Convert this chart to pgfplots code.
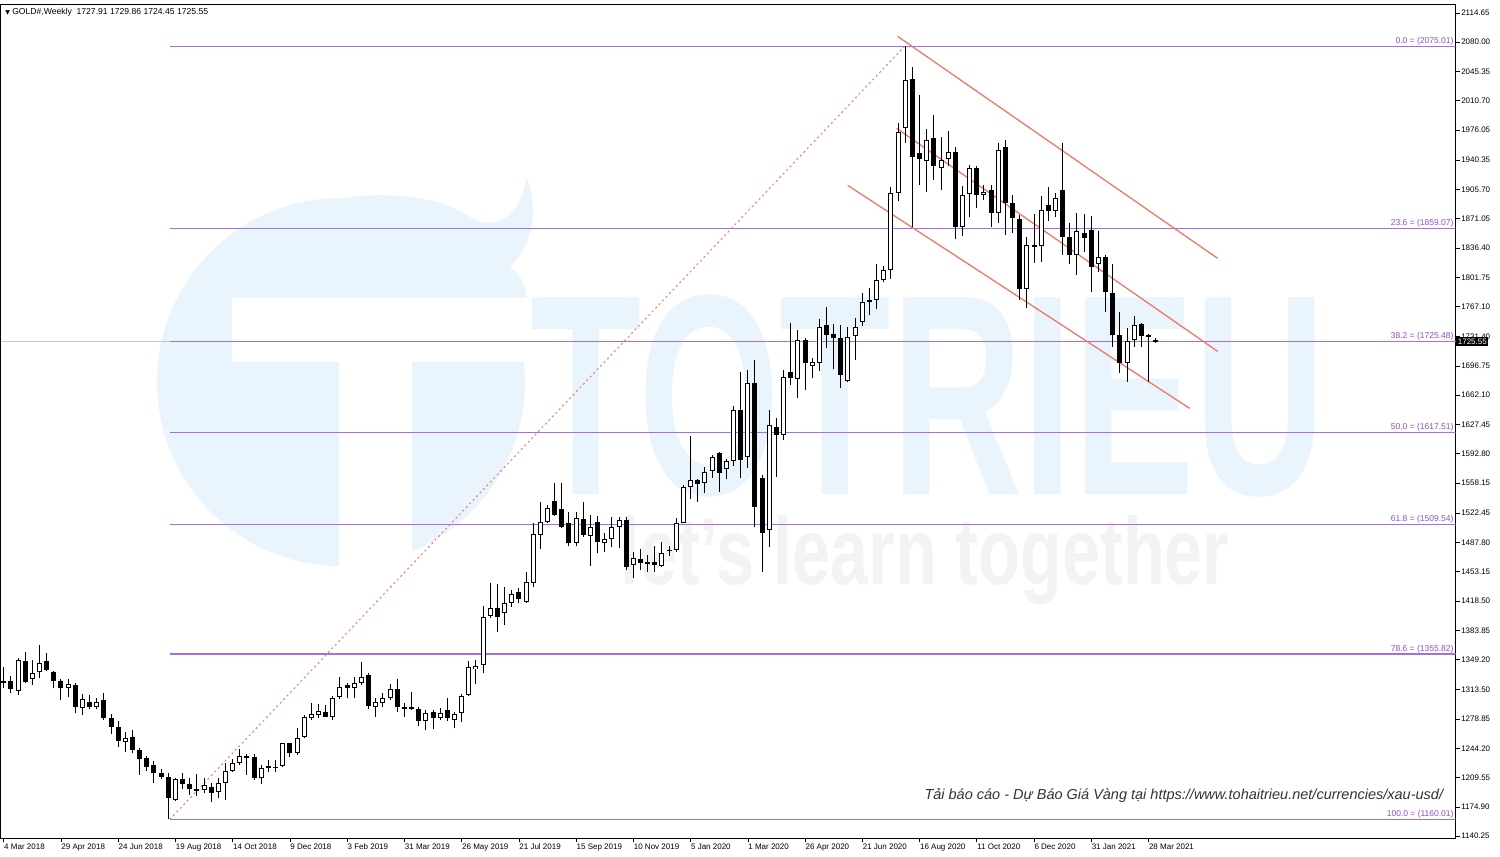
\documentclass[border=0pt]{standalone}
\usepackage{pgfplots}
\usepackage{pgfplotstable}
\pgfplotsset{compat=1.18}
\usepackage{fontspec}
\setmainfont{Liberation Sans}
\newfontfamily\dejavu{DejaVu Sans}
\definecolor{fibc}{RGB}{165,110,225}
\definecolor{fibt}{RGB}{140,80,200}
\definecolor{chan}{RGB}{238,120,105}
\definecolor{wmblue}{RGB}{234,244,253}
\definecolor{wmgray}{RGB}{243,243,243}

\pgfplotstableread{
i o h l c
0 1322.0 1340.0 1316.0 1324.0
1 1323.7 1330.1 1309.2 1313.9
2 1312.4 1351.4 1307.1 1348.6
3 1347.9 1358.5 1321.0 1323.0
4 1325.7 1348.6 1319.0 1333.7
5 1334.8 1366.3 1326.9 1345.5
6 1347.4 1357.3 1336.0 1336.7
7 1334.8 1336.0 1315.1 1324.2
8 1323.7 1326.1 1301.2 1315.9
9 1315.9 1326.1 1304.4 1319.8
10 1319.0 1321.8 1285.5 1293.4
11 1291.4 1308.3 1283.5 1302.0
12 1299.3 1307.1 1290.2 1293.4
13 1292.6 1304.1 1290.2 1299.3
14 1301.2 1310.0 1277.5 1279.6
15 1279.6 1285.0 1261.0 1269.0
16 1269.0 1276.0 1246.0 1253.0
17 1252.0 1263.8 1240.1 1255.9
18 1257.1 1265.7 1238.1 1242.0
19 1242.0 1244.0 1212.4 1231.0
20 1232.2 1234.9 1217.6 1222.4
21 1224.3 1229.0 1203.4 1214.4
22 1215.3 1219.2 1207.4 1210.6
23 1210.6 1215.3 1160.0 1184.9
24 1182.9 1208.5 1182.1 1207.4
25 1207.4 1215.3 1195.5 1201.8
26 1201.8 1208.5 1188.8 1195.5
27 1195.5 1213.6 1187.6 1195.2
28 1194.7 1208.5 1190.8 1200.6
29 1198.7 1202.6 1181.0 1191.6
30 1192.8 1208.5 1184.9 1203.4
31 1203.4 1226.3 1182.9 1217.6
32 1217.6 1231.0 1216.5 1226.3
33 1227.1 1242.9 1224.3 1234.9
34 1234.9 1236.9 1212.4 1233.4
35 1233.4 1237.3 1206.5 1208.5
36 1208.5 1224.3 1202.0 1221.2
37 1223.1 1230.2 1216.5 1222.0
38 1222.0 1230.2 1216.5 1221.5
39 1223.1 1250.8 1221.6 1250.0
40 1250.0 1250.8 1234.2 1239.0
41 1238.1 1267.7 1236.1 1256.7
42 1257.1 1283.5 1255.9 1281.6
43 1279.6 1298.1 1277.5 1284.7
44 1283.5 1296.5 1279.6 1288.7
45 1287.5 1295.3 1280.7 1281.6
46 1281.6 1306.0 1277.5 1303.2
47 1304.4 1328.1 1302.0 1317.1
48 1319.0 1321.8 1303.2 1315.1
49 1315.1 1328.9 1303.2 1321.8
50 1321.8 1346.7 1319.0 1328.9
51 1330.8 1332.8 1290.2 1294.1
52 1293.4 1303.2 1281.6 1299.3
53 1298.1 1309.2 1292.6 1303.2
54 1303.2 1320.2 1301.2 1313.9
55 1313.9 1325.7 1287.5 1292.6
56 1293.4 1298.1 1281.6 1291.5
57 1292.6 1311.2 1289.4 1291.0
58 1291.0 1292.6 1270.4 1276.8
59 1276.8 1289.4 1265.7 1286.3
60 1287.5 1289.4 1266.9 1279.6
61 1279.6 1291.4 1277.5 1286.3
62 1289.4 1304.1 1276.8 1279.6
63 1277.5 1287.5 1267.7 1284.7
64 1285.5 1308.3 1275.7 1306.0
65 1307.1 1347.9 1306.0 1340.8
66 1337.6 1348.6 1320.2 1341.9
67 1342.7 1412.5 1332.8 1399.1
68 1400.7 1439.4 1397.9 1409.8
69 1409.8 1438.5 1382.2 1400.0
70 1403.9 1435.5 1390.0 1415.7
71 1416.5 1431.4 1411.0 1426.7
72 1429.5 1433.4 1415.7 1420.4
73 1417.7 1453.2 1415.7 1441.4
74 1439.4 1510.4 1435.5 1497.4
75 1496.5 1536.1 1479.6 1512.4
76 1512.4 1532.0 1510.4 1528.1
77 1537.3 1557.7 1519.0 1520.2
78 1527.0 1557.7 1504.5 1506.5
79 1510.4 1524.2 1483.5 1486.7
80 1487.0 1524.2 1483.5 1517.0
81 1515.1 1536.1 1494.6 1496.5
82 1495.4 1520.2 1459.8 1506.5
83 1512.4 1519.0 1474.9 1488.7
84 1487.5 1499.4 1476.9 1491.4
85 1491.4 1518.3 1482.0 1505.6
86 1505.6 1518.3 1480.8 1514.3
87 1514.3 1518.3 1454.8 1459.1
88 1461.0 1476.9 1445.3 1469.0
89 1467.8 1479.6 1455.1 1463.9
90 1464.2 1472.9 1453.2 1462.5
91 1465.1 1483.5 1453.2 1461.0
92 1459.8 1488.7 1458.3 1475.7
93 1478.1 1483.5 1471.7 1479.0
94 1478.8 1516.3 1476.9 1511.2
95 1511.2 1555.7 1510.4 1553.8
96 1553.8 1613.7 1538.8 1561.6
97 1561.6 1563.5 1536.1 1556.9
98 1557.7 1576.7 1545.9 1571.6
99 1572.0 1591.2 1563.7 1589.3
100 1594.1 1595.3 1547.9 1570.4
101 1574.3 1586.1 1562.5 1584.6
102 1584.6 1649.0 1578.0 1644.1
103 1644.1 1689.1 1563.7 1585.3
104 1589.3 1691.8 1575.5 1676.1
105 1676.1 1703.7 1506.5 1530.1
106 1563.7 1567.6 1453.2 1498.5
107 1502.5 1644.5 1482.8 1626.7
108 1624.9 1634.7 1565.7 1614.9
109 1614.9 1691.8 1609.0 1683.2
110 1690.0 1747.1 1674.1 1682.0
111 1680.8 1739.2 1658.3 1727.4
112 1727.4 1729.4 1668.2 1699.8
113 1696.6 1705.7 1682.0 1701.8
114 1699.8 1751.9 1691.1 1742.4
115 1745.1 1766.1 1717.5 1733.3
116 1734.5 1746.3 1692.7 1729.4
117 1729.4 1745.1 1670.2 1685.9
118 1679.3 1743.2 1678.1 1730.6
119 1732.1 1753.0 1703.7 1742.4
120 1749.1 1782.6 1743.9 1772.8
121 1772.8 1789.0 1757.0 1775.0
122 1775.0 1818.0 1764.0 1798.0
123 1798.0 1815.0 1796.0 1810.0
124 1810.0 1908.1 1800.0 1901.0
125 1901.0 1983.8 1892.0 1974.0
126 1977.9 2075.0 1960.2 2035.1
127 2035.9 2051.0 1861.6 1944.5
128 1948.4 2017.4 1910.8 1941.2
129 1939.7 1976.8 1903.0 1964.1
130 1966.7 1993.7 1916.7 1933.2
131 1930.6 1967.9 1904.9 1940.5
132 1941.2 1974.6 1933.3 1950.4
133 1950.4 1956.3 1846.6 1860.8
134 1860.8 1909.3 1850.1 1898.6
135 1900.0 1934.5 1873.4 1930.6
136 1930.6 1933.3 1883.2 1899.0
137 1899.0 1910.8 1893.1 1903.0
138 1904.9 1910.8 1861.6 1878.1
139 1877.3 1960.2 1865.5 1952.2
140 1955.4 1964.1 1852.1 1889.1
141 1889.1 1899.0 1854.1 1871.4
142 1870.2 1876.0 1774.7 1787.4
143 1787.4 1849.7 1764.9 1839.8
144 1839.8 1876.5 1819.0 1838.5
145 1838.5 1897.8 1819.3 1881.2
146 1887.0 1908.1 1868.7 1880.3
147 1880.3 1901.7 1872.6 1896.1
148 1904.9 1961.0 1828.0 1849.7
149 1849.7 1865.5 1817.3 1828.0
150 1828.0 1877.3 1804.9 1856.9
151 1854.5 1876.5 1832.0 1847.8
152 1858.0 1874.2 1784.7 1814.2
153 1817.3 1856.9 1808.3 1825.2
154 1826.0 1828.0 1761.0 1784.7
155 1782.6 1817.3 1719.6 1733.3
156 1733.3 1761.0 1688.8 1700.6
157 1700.6 1741.2 1677.8 1726.6
158 1727.4 1755.8 1719.6 1745.1
159 1746.3 1747.9 1719.6 1732.1
160 1733.3 1735.0 1677.8 1730.6
161 1727.91 1729.86 1724.45 1725.55
}\candles

\begin{document}
\begin{tikzpicture}[x=1pt,y=1pt]
\useasboundingbox (0,0) rectangle (1500,857);
\fill[white] (0,0) rectangle (1500,857);
% watermark logo (pixel coords: y_tikz = 857 - y_px)
\fill[wmblue] (341,475) circle[radius=184];
\fill[wmblue] (300,650) .. controls (380,672) and (440,660) .. (470,640)
  .. controls (495,625) and (520,640) .. (527,680)
  .. controls (540,640) and (530,610) .. (510,590)
  .. controls (525,580) and (530,560) .. (525,540) -- (420,560) -- cycle;
\fill[white] (232,559) rectangle (537,495);
\fill[white] (339,495) rectangle (412,280);
\node[anchor=base west, text=wmblue, inner sep=0pt, xscale=0.637]
  at (530,362) {\fontsize{286}{286}\selectfont\bfseries TOTRIEU};
\node[anchor=base west, text=wmgray, inner sep=0pt, xscale=0.72]
  at (620,272) {\fontsize{95}{95}\selectfont\bfseries let's learn together};

\begin{axis}[
  at={(1,22)}, anchor=south west,
  scale only axis, width=1455pt, height=834pt,
  xmin=-0.419, xmax=202.94, ymin=1137.51, ymax=2124.73,
  clip mode=individual,
  axis line style={black, line width=0.8pt},
  tick align=outside, major tick length=4pt,
  tick style={black, line width=0.6pt},
  ytick pos=right, yticklabel pos=right,
  xtick pos=bottom,
  ytick={1140.25,1174.90,1209.55,1244.20,1278.85,1313.50,1349.20,1383.85,1418.50,1453.15,1487.80,1522.45,1558.15,1592.80,1627.45,1662.10,1696.75,1731.40,1767.10,1801.75,1836.40,1871.05,1905.70,1940.35,1976.05,2010.70,2045.35,2080.00,2114.65},
  yticklabels={1140.25,1174.90,1209.55,1244.20,1278.85,1313.50,1349.20,1383.85,1418.50,1453.15,1487.80,1522.45,1558.15,1592.80,1627.45,1662.10,1696.75,1731.40,1767.10,1801.75,1836.40,1871.05,1905.70,1940.35,1976.05,2010.70,2045.35,2080.00,2114.65},
  xtick={0,8,...,160},
  xticklabels={4 Mar 2018,29 Apr 2018,24 Jun 2018,19 Aug 2018,14 Oct 2018,9 Dec 2018,3 Feb 2019,31 Mar 2019,26 May 2019,21 Jul 2019,15 Sep 2019,10 Nov 2019,5 Jan 2020,1 Mar 2020,26 Apr 2020,21 Jun 2020,16 Aug 2020,11 Oct 2020,6 Dec 2020,31 Jan 2021,28 Mar 2021},
  yticklabel style={font=\fontsize{8}{9}\selectfont, anchor=west, xshift=-2pt},
  xticklabel style={font=\fontsize{8}{9}\selectfont, anchor=north west, xshift=-3pt, yshift=2pt},
  /pgf/number format/assume math mode=true,
]
% current price line
\addplot[gray!45, line width=0.6pt, forget plot] coordinates {(-0.419,1725.55) (202.94,1725.55)};
% fibonacci levels
\foreach \lv in {2075.01,1859.07,1725.48,1617.51,1509.54,1355.82,1160.01}{
  \edef\tmp{\noexpand\addplot[fibc, line width=1.1pt, forget plot] coordinates {(23.2,\lv) (202.94,\lv)};}\tmp
}
% fib trend line
\addplot[chan, line width=1pt, dash pattern=on 2pt off 3pt, forget plot] coordinates {(23.2,1160.01) (125.9,2075.01)};
% channel
\addplot[chan, line width=1.3pt, forget plot] coordinates {(124.95,2086.85) (169.67,1824.06)};
\addplot[chan, line width=1.3pt, forget plot] coordinates {(124.81,1977.95) (169.67,1713.98)};
\addplot[chan, line width=1.3pt, forget plot] coordinates {(117.96,1910.47) (165.76,1646.5)};
% wicks
\addplot[draw=none, mark=none, forget plot,
  error bars/.cd, y dir=plus, y explicit, error mark=none,
  error bar style={draw=black, line width=1pt}]
  table[x=i, y=l, y error expr={\thisrow{h}-\thisrow{l}}] {\candles};
% bearish bodies
\addplot[draw=none, mark=none, forget plot,
  x filter/.expression={\thisrow{c}<\thisrow{o} ? x : nan},
  error bars/.cd, y dir=both, y explicit, error mark=none,
  error bar style={draw=black, line width=5pt}]
  table[x=i, y expr={(\thisrow{o}+\thisrow{c})/2}, y error expr={max(abs(\thisrow{o}-\thisrow{c})/2,0.6)}] {\candles};
% bullish bodies (outline)
\addplot[draw=none, mark=none, forget plot,
  x filter/.expression={\thisrow{c}<\thisrow{o} ? nan : x},
  error bars/.cd, y dir=both, y explicit, error mark=none,
  error bar style={draw=black, line width=5pt}]
  table[x=i, y expr={(\thisrow{o}+\thisrow{c})/2}, y error expr={max(abs(\thisrow{o}-\thisrow{c})/2,0.6)}] {\candles};
% bullish bodies (white inside)
\addplot[draw=none, mark=none, forget plot,
  x filter/.expression={\thisrow{c}-\thisrow{o}>3 ? x : nan},
  error bars/.cd, y dir=both, y explicit, error mark=none,
  error bar style={draw=white, line width=3pt}]
  table[x=i, y expr={(\thisrow{o}+\thisrow{c})/2}, y error expr={abs(\thisrow{o}-\thisrow{c})/2-1.2}] {\candles};
% fib labels
\foreach \lv/\lb in {2075.01/0.0,1859.07/23.6,1725.48/38.2,1617.51/50.0,1509.54/61.8,1355.82/78.6,1160.01/100.0}{
  \edef\tmp{\noexpand\node[anchor=south east, inner sep=1pt, text=fibt, font=\noexpand\fontsize{8.5}{9}\noexpand\selectfont] at (axis cs:202.8,\lv) {\lb\space= (\lv)};}\tmp
}
% current price box
\node[anchor=west, fill=black, text=white, inner sep=1.5pt, font=\fontsize{8}{9}\selectfont] at (axis cs:203.0,1725.55) {1725.55};
% header
\node[anchor=west, inner sep=0pt, font=\fontsize{8.6}{9}\selectfont] at (rel axis cs:0.003,0.99) {{\dejavu\fontsize{6}{7}\selectfont ▼}\ GOLD\#,Weekly\ \ 1727.91 1729.86 1724.45 1725.55};
% note
\node[anchor=base east, inner sep=0pt, text=black!80, font=\fontsize{14.5}{16}\selectfont\itshape] at (axis cs:201.2,1183.5) {Tải báo cáo - Dự Báo Giá Vàng tại https://www.tohaitrieu.net/currencies/xau-usd/};
\end{axis}
\end{tikzpicture}
\end{document}
